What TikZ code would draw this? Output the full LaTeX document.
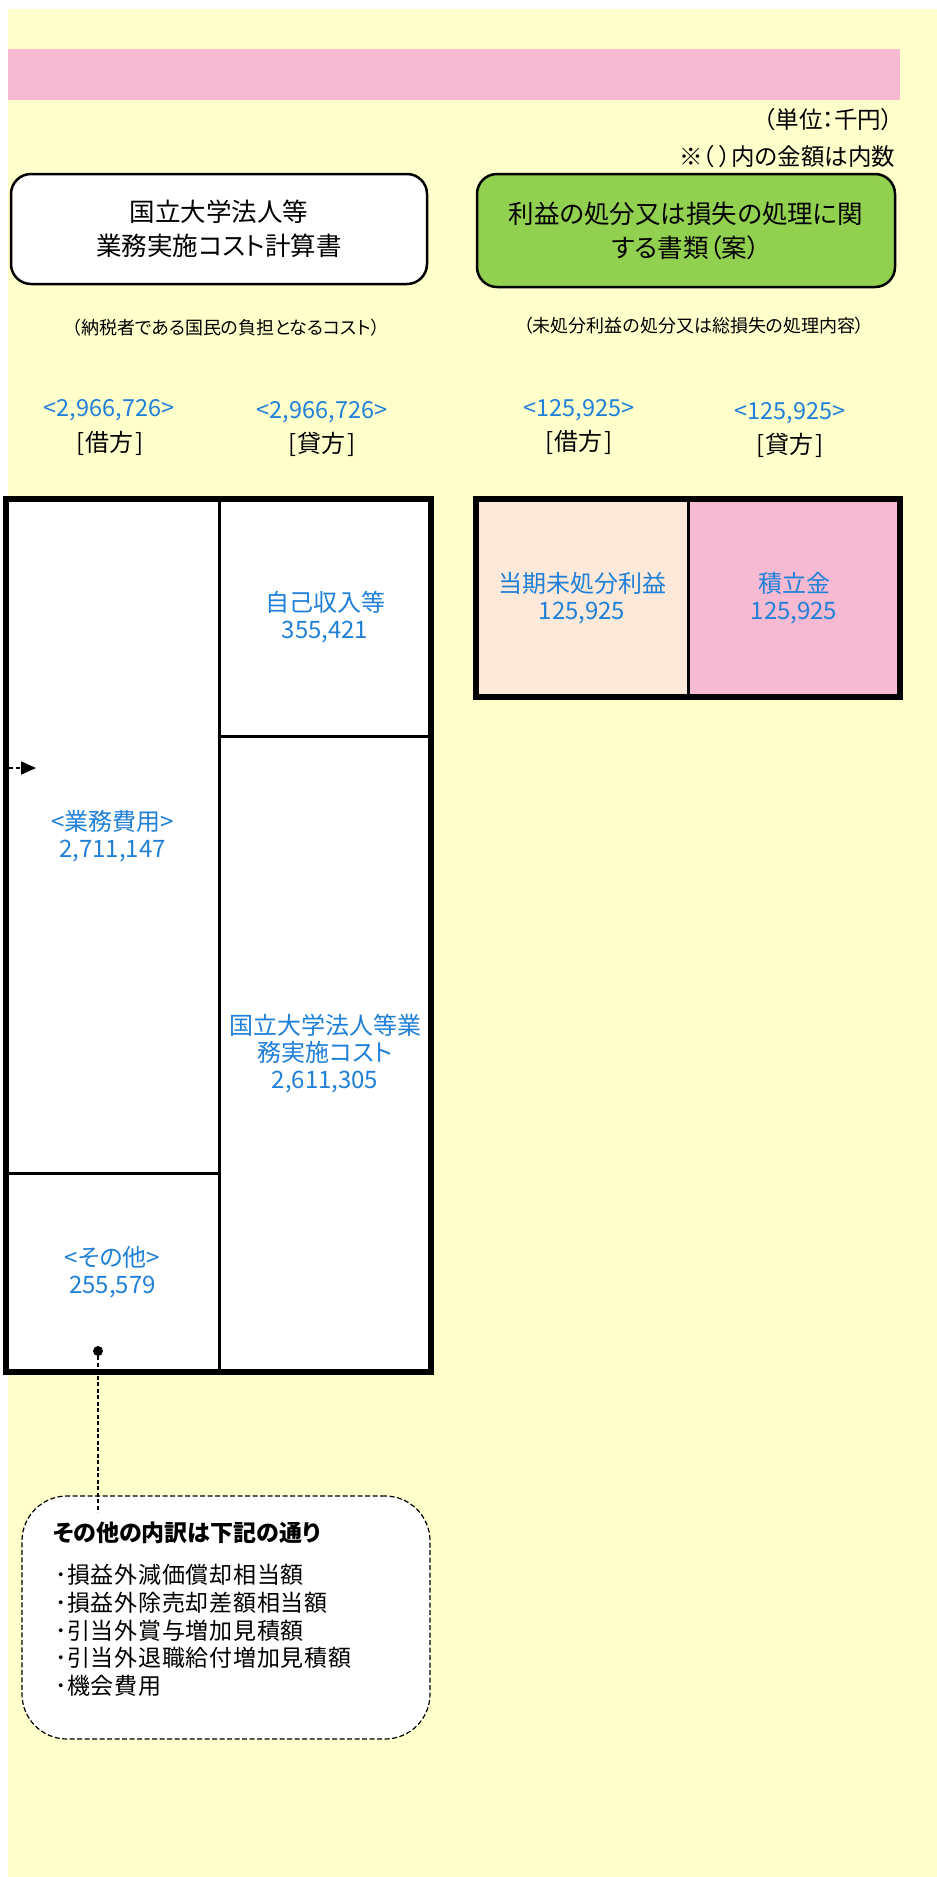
\documentclass[tikz,border=0pt]{standalone}
\usepackage{fontspec}
\setmainfont{Noto Sans CJK JP}[RawFeature=+palt]
\usetikzlibrary{arrows.meta}
\definecolor{bgyellow}{HTML}{FFFFCC}
\definecolor{bandpink}{HTML}{F6BBD2}
\definecolor{boxgreen}{HTML}{92D050}
\definecolor{peach}{HTML}{FDE9D9}
\definecolor{txtblue}{HTML}{2080D8}
\begin{document}
\begin{tikzpicture}[x=1pt,y=-1pt,
  every node/.style={inner sep=0pt, outer sep=0pt},
  titlebox/.style={draw=black, line width=2.5pt, rounded corners=20pt, font=\fontsize{25.5}{34}\selectfont, align=center},
  subnote/.style={font=\fontsize{18}{22}\selectfont},
  amount/.style={text=txtblue, font=\fontsize{23.5}{26}\selectfont},
  sidelbl/.style={font=\fontsize{24}{26}\selectfont},
  cell/.style={draw=black, line width=3pt, fill=white, anchor=north west, text=txtblue, align=center, font=\fontsize{24}{27}\selectfont},
  outerframe/.style={draw=black, line width=6pt},
  noteline/.style={font=\fontsize{23.5}{26}\selectfont, anchor=east},
  callout/.style={draw=black, line width=1.2pt, dash pattern=on 5pt off 2.5pt, fill=white, rounded corners=45pt, anchor=north west},
  ]
\useasboundingbox (0,0) rectangle (937,1877);
\fill[white] (0,0) rectangle (937,1877);
\fill[bgyellow] (8,9) rectangle (937,1877);
\fill[bandpink] (8,49) rectangle (900,100);

% notes
\node[noteline] (unit) at (893,120) {（単位：千円）};
\node[noteline] (inner) at (895,157) {※（ ）内の金額は内数};

% title boxes
\node[titlebox, fill=white, minimum width=416pt, minimum height=110pt] (costbox) at (219,229) {国立大学法人等\\業務実施コスト計算書};
\node[titlebox, fill=boxgreen, minimum width=418pt, minimum height=113pt] (profitbox) at (686,230.5) {利益の処分又は損失の処理に関\\する書類（案）};

\node[subnote] (costsub) at (226,328) {（納税者である国民の負担となるコスト）};
\node[subnote] (profitsub) at (694,326) {（未処分利益の処分又は総損失の処理内容）};

% amounts and sides
\node[amount] (amt1) at (109,410) {<2,966,726>};
\node[sidelbl] (side1) at (110,443) {[\kern1.5pt 借方\kern1.5pt ]};
\node[amount] (amt2) at (322,412) {<2,966,726>};
\node[sidelbl] (side2) at (322,444) {[\kern1.5pt 貸方\kern1.5pt ]};
\node[amount] (amt3) at (579,410) {<125,925>};
\node[sidelbl] (side3) at (579,442) {[\kern1.5pt 借方\kern1.5pt ]};
\node[amount] (amt4) at (790,413) {<125,925>};
\node[sidelbl] (side4) at (790,445) {[\kern1.5pt 貸方\kern1.5pt ]};

% left table
\node[cell, minimum width=213pt, minimum height=674pt] (gyomu) at (6,499) {<業務費用>\\2,711,147};
\node[cell, minimum width=213pt, minimum height=198.5pt] (sonota) at (6,1173) {<その他>\\255,579};
\node[cell, minimum width=212pt, minimum height=237pt] (jiko) at (219,499) {自己収入等\\355,421};
\node[cell, minimum width=212pt, minimum height=635.5pt] (cost) at (219,736) {国立大学法人等業\\務実施コスト\\2,611,305};
\draw[outerframe] (gyomu.north west) rectangle (cost.south east);

% right table
\node[cell, fill=peach, minimum width=212pt, minimum height=198pt] (toki) at (476,499) {当期未処分利益\\125,925};
\node[cell, fill=bandpink, minimum width=212pt, minimum height=198pt] (tsumi) at (688,499) {積立金\\125,925};
\draw[outerframe] (toki.north west) rectangle (tsumi.south east);

% arrow at left
\coordinate (arrtail) at (9,768);
\coordinate (arrtip) at (36,768);
\draw[line width=2pt, dash pattern=on 4pt off 2.5pt, -{Triangle[length=15pt,width=13pt]}] (arrtail) -- (arrtip);

% callout
\node[callout, minimum width=408pt, minimum height=243pt] (callbox) at (22,1496) {};
\node[circle, fill=black, minimum size=10pt] (dot) at (98,1351) {};
\coordinate (callin) at (98,1512);
\draw[line width=1.2pt, dash pattern=on 4pt off 2.5pt] (dot) -- (callin);
\node[font=\bfseries\fontsize{23}{26}\selectfont, anchor=west] (calltitle) at (53,1533) {その他の内訳は下記の通り};
\node[font=\fontsize{23}{27.75}\selectfont\addfontfeature{LetterSpace=3.2}, anchor=west, align=left] (calllist) at (55,1630.5) {･損益外減価償却相当額\\･損益外除売却差額相当額\\･引当外賞与増加見積額\\･引当外退職給付増加見積額\\･機会費用};
\end{tikzpicture}
\end{document}
